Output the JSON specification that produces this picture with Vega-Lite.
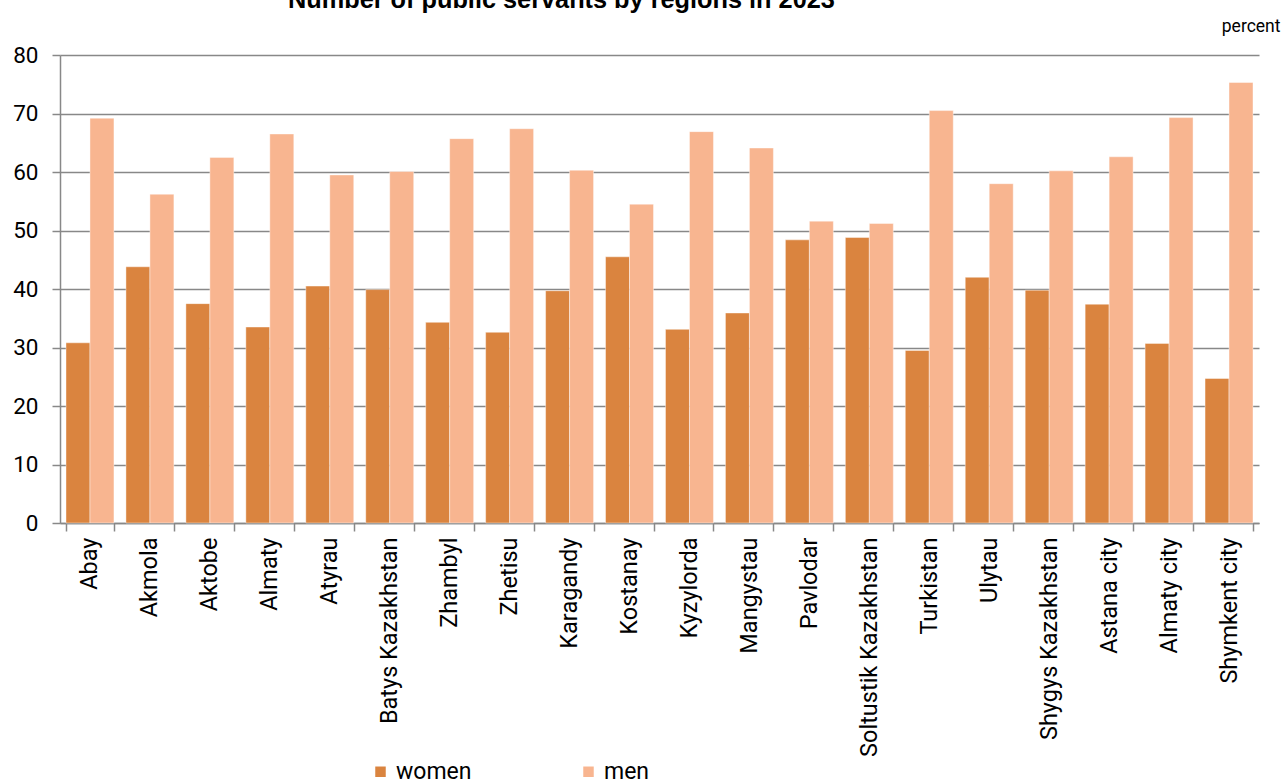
{
  "$schema": "https://vega.github.io/schema/vega-lite/v6.json",
  "width": 1199,
  "height": 468,
  "autosize": {"type": "none"},
  "padding": {"left": 60, "top": 55, "right": 24, "bottom": 258},
  "background": "white",
  "title": {
    "text": "Number of public servants by regions in 2023",
    "font": "Liberation Sans",
    "fontSize": 25.3,
    "fontWeight": "bold",
    "color": "#000000",
    "anchor": "start",
    "frame": "group",
    "dx": 228,
    "dy": 16,
    "baseline": "alphabetic",
    "offset": 0
  },
  "data": {
    "values": [
      {"region": "Abay", "sex": "women", "value": 30.8},
      {"region": "Abay", "sex": "men", "value": 69.2},
      {"region": "Akmola", "sex": "women", "value": 43.8},
      {"region": "Akmola", "sex": "men", "value": 56.2},
      {"region": "Aktobe", "sex": "women", "value": 37.5},
      {"region": "Aktobe", "sex": "men", "value": 62.5},
      {"region": "Almaty", "sex": "women", "value": 33.5},
      {"region": "Almaty", "sex": "men", "value": 66.5},
      {"region": "Atyrau", "sex": "women", "value": 40.5},
      {"region": "Atyrau", "sex": "men", "value": 59.5},
      {"region": "Batys Kazakhstan", "sex": "women", "value": 39.9},
      {"region": "Batys Kazakhstan", "sex": "men", "value": 60.1},
      {"region": "Zhambyl", "sex": "women", "value": 34.3},
      {"region": "Zhambyl", "sex": "men", "value": 65.7},
      {"region": "Zhetisu", "sex": "women", "value": 32.6},
      {"region": "Zhetisu", "sex": "men", "value": 67.4},
      {"region": "Karagandy", "sex": "women", "value": 39.7},
      {"region": "Karagandy", "sex": "men", "value": 60.3},
      {"region": "Kostanay", "sex": "women", "value": 45.5},
      {"region": "Kostanay", "sex": "men", "value": 54.5},
      {"region": "Kyzylorda", "sex": "women", "value": 33.1},
      {"region": "Kyzylorda", "sex": "men", "value": 66.9},
      {"region": "Mangystau", "sex": "women", "value": 35.9},
      {"region": "Mangystau", "sex": "men", "value": 64.1},
      {"region": "Pavlodar", "sex": "women", "value": 48.4},
      {"region": "Pavlodar", "sex": "men", "value": 51.6},
      {"region": "Soltustik Kazakhstan", "sex": "women", "value": 48.8},
      {"region": "Soltustik Kazakhstan", "sex": "men", "value": 51.2},
      {"region": "Turkistan", "sex": "women", "value": 29.5},
      {"region": "Turkistan", "sex": "men", "value": 70.5},
      {"region": "Ulytau", "sex": "women", "value": 42.0},
      {"region": "Ulytau", "sex": "men", "value": 58.0},
      {"region": "Shygys Kazakhstan", "sex": "women", "value": 39.8},
      {"region": "Shygys Kazakhstan", "sex": "men", "value": 60.2},
      {"region": "Astana city", "sex": "women", "value": 37.4},
      {"region": "Astana city", "sex": "men", "value": 62.6},
      {"region": "Almaty city", "sex": "women", "value": 30.7},
      {"region": "Almaty city", "sex": "men", "value": 69.3},
      {"region": "Shymkent city", "sex": "women", "value": 24.7},
      {"region": "Shymkent city", "sex": "men", "value": 75.3}
    ]
  },
  "mark": {"type": "bar", "stroke": "#ffffff", "strokeWidth": 0.6, "strokeOpacity": 0.7},
  "encoding": {
    "x": {
      "field": "region",
      "type": "nominal",
      "sort": null,
      "scale": {"paddingInner": 0.2, "paddingOuter": 0.1},
      "axis": {
        "title": null,
        "labelAngle": -90,
        "labelAlign": "right",
        "labelBaseline": "middle",
        "labelFont": "Roboto",
        "labelFontSize": 23.5,
        "labelColor": "#000000",
        "labelPadding": 6,
        "tickBand": "extent",
        "tickSize": 8,
        "tickColor": "#888888",
        "tickWidth": 1.5,
        "domainColor": "#888888",
        "domainWidth": 1.5,
        "labelLimit": 400
      }
    },
    "xOffset": {"field": "sex", "type": "nominal", "sort": ["women", "men"], "scale": {"paddingInner": 0, "paddingOuter": 0}},
    "y": {
      "field": "value",
      "type": "quantitative",
      "scale": {"domain": [0, 80], "nice": false},
      "axis": {
        "values": [0, 10, 20, 30, 40, 50, 60, 70, 80],
        "title": "percent",
        "titleAngle": 0,
        "titleAlign": "right",
        "titleBaseline": "alphabetic",
        "titleX": 1220,
        "titleY": -24,
        "titleFont": "Roboto",
        "titleFontSize": 17.5,
        "titleFontWeight": "normal",
        "titleColor": "#000000",
        "labelFont": "Roboto",
        "labelFontSize": 22.5,
        "labelColor": "#000000",
        "labelPadding": 14,
        "tickSize": 8,
        "tickColor": "#888888",
        "tickWidth": 1.5,
        "domainColor": "#888888",
        "domainWidth": 1.5,
        "grid": true,
        "gridColor": "#888888",
        "gridWidth": 1.5
      }
    },
    "color": {
      "field": "sex",
      "type": "nominal",
      "sort": ["women", "men"],
      "scale": {"domain": ["women", "men"], "range": ["#DA843F", "#F8B590"]},
      "legend": {
        "title": null,
        "orient": "none",
        "direction": "horizontal",
        "legendX": 309,
        "legendY": 705,
        "symbolType": "square",
        "symbolSize": 110,
        "symbolStrokeWidth": 0,
        "labelFont": "Roboto",
        "labelFontSize": 23,
        "labelColor": "#000000",
        "labelOffset": 4,
        "columnPadding": 105
      }
    }
  },
  "config": {"view": {"stroke": null}}
}
